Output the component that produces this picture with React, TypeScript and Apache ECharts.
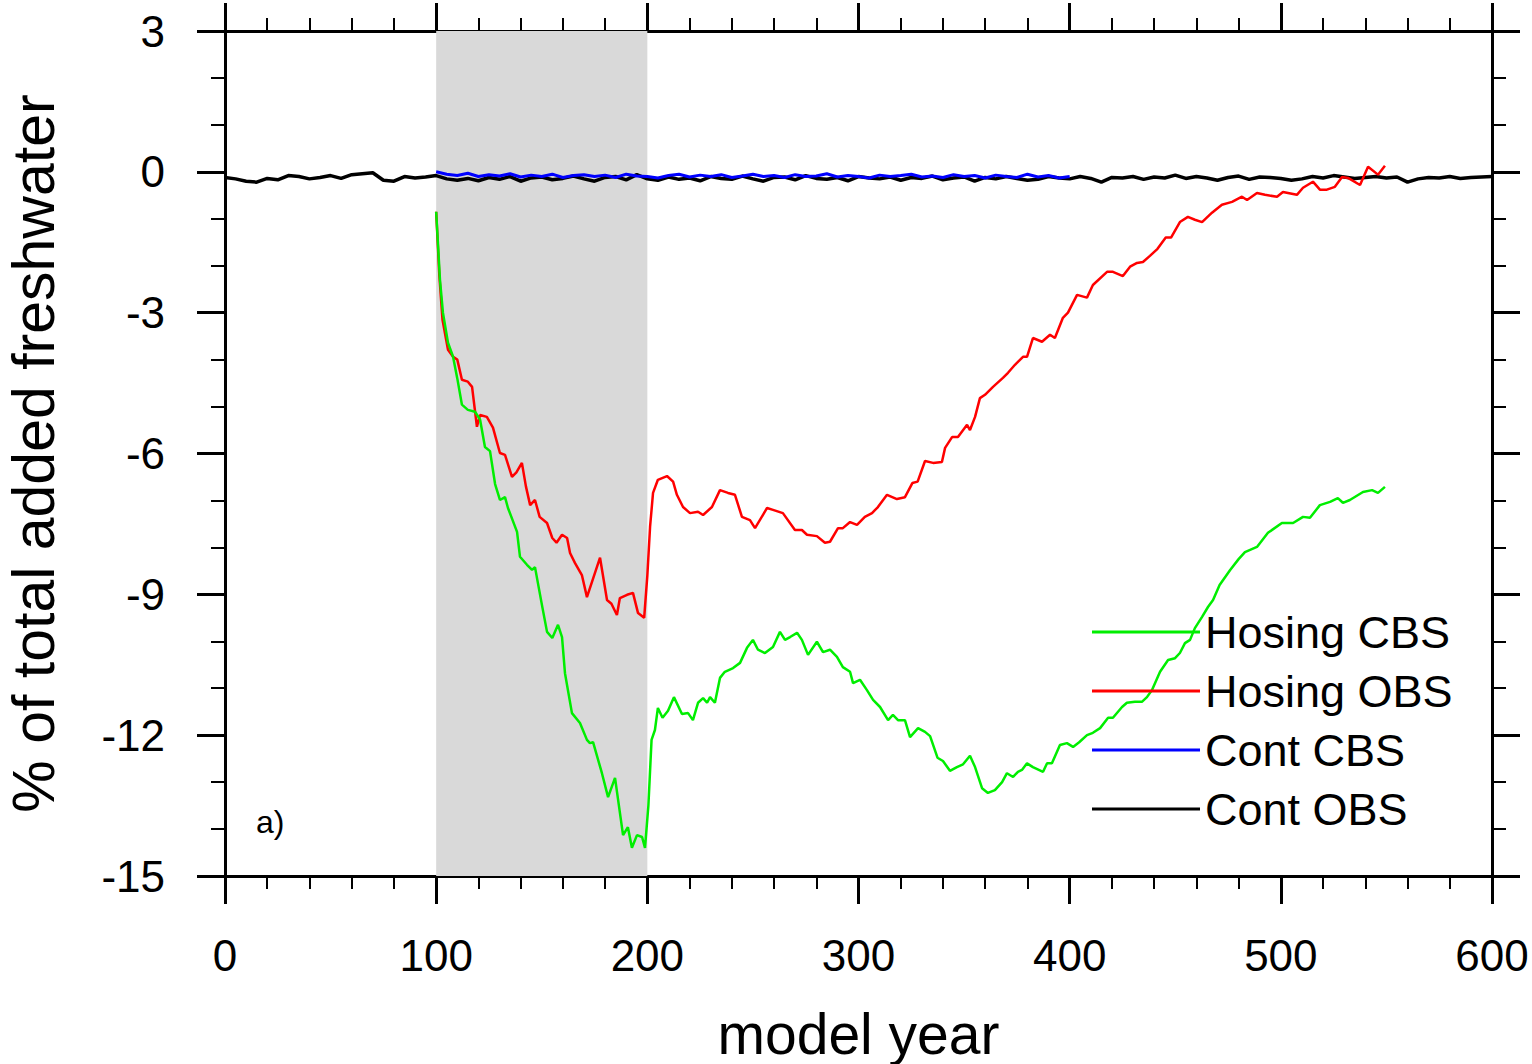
import React, { useEffect, useRef } from "react";
import * as echarts from "echarts";

const FONT = "'Liberation Sans', Arial, Helvetica, sans-serif";

const xTicks = { min: 0, max: 600, interval: 100 };
const yTicks = { min: -15, max: 3, interval: 3 };

const seriesNames = ["Hosing CBS", "Hosing OBS", "Cont CBS", "Cont OBS"];
const seriesColors = ["#00ee00", "#ff0000", "#0000ff", "#000000"];

const hosingPeriod = [100, 200];

// Cont OBS: years 0..600 every 5
const contOBSStart = 0;
const contOBSStep = 5;
const contOBSValues = [
  -0.12, -0.15, -0.2, -0.22, -0.14, -0.17, -0.08, -0.1, -0.15, -0.12,
  -0.08, -0.14, -0.06, -0.04, -0.02, -0.18, -0.2, -0.1, -0.13, -0.11,
  -0.08, -0.15, -0.18, -0.14, -0.19, -0.12, -0.16, -0.1, -0.2, -0.13,
  -0.11, -0.17, -0.14, -0.09, -0.15, -0.2, -0.12, -0.1, -0.17, -0.06,
  -0.15, -0.18, -0.11, -0.16, -0.13, -0.19, -0.1, -0.14, -0.16, -0.09,
  -0.15, -0.2, -0.12, -0.11, -0.17, -0.08, -0.14, -0.16, -0.12, -0.19,
  -0.1, -0.13, -0.15, -0.11, -0.18, -0.12, -0.14, -0.09, -0.17, -0.13,
  -0.11, -0.2, -0.12, -0.15, -0.1, -0.14, -0.18, -0.16, -0.1, -0.13,
  -0.15, -0.1, -0.14, -0.22, -0.12, -0.13, -0.1, -0.16, -0.11, -0.13,
  -0.07, -0.14, -0.1, -0.13, -0.18, -0.12, -0.09, -0.16, -0.11, -0.12,
  -0.14, -0.18, -0.15, -0.1, -0.13, -0.08, -0.11, -0.14, -0.12, -0.1,
  -0.13, -0.11, -0.22, -0.15, -0.12, -0.13, -0.1, -0.14, -0.12, -0.11,
  -0.1,
];

// Cont CBS: years 100..400 every 5
const contCBSStart = 100;
const contCBSStep = 5;
const contCBSValues = [
  0.0, -0.05, -0.08, -0.03, -0.1, -0.06, -0.09, -0.04, -0.11, -0.07,
  -0.1, -0.05, -0.12, -0.08, -0.06, -0.1, -0.07, -0.12, -0.05, -0.09,
  -0.1, -0.13, -0.08, -0.05, -0.11, -0.07, -0.1, -0.06, -0.12, -0.09,
  -0.05, -0.1, -0.08, -0.12, -0.06, -0.1, -0.09, -0.04, -0.11, -0.08,
  -0.1, -0.13, -0.07, -0.1, -0.08, -0.05, -0.11, -0.09, -0.12, -0.06,
  -0.1, -0.08, -0.13, -0.07, -0.1, -0.12, -0.05, -0.11, -0.08, -0.13,
  -0.1,
];

// Hosing OBS: [model year, %]
const hosingOBS: [number, number][] = [
  [100, -0.85], [101.5, -2.2], [103, -3.15], [105.6, -3.79], [108, -3.94], [110, -4.0],
  [112.2, -4.43], [115, -4.47], [117, -4.58], [119.3, -5.43], [120.8, -5.18], [124, -5.22],
  [126.9, -5.45], [130.2, -5.99], [132.6, -6.03], [135.9, -6.5], [138, -6.4], [140.6, -6.2],
  [142.5, -6.7], [144.5, -7.1], [146.8, -6.99], [149, -7.35], [152.5, -7.48], [155, -7.8],
  [157, -7.9], [159.6, -7.73], [162, -7.8], [163.4, -8.12], [165.7, -8.33], [169, -8.59],
  [171.4, -9.06], [177.6, -8.22], [180.9, -9.12], [183, -9.2], [185.6, -9.44], [187, -9.08],
  [190.4, -9.01], [193.2, -8.97], [195.6, -9.4], [198.5, -9.5], [200, -8.6], [201.3, -7.56],
  [202.7, -6.84], [205, -6.56], [209.3, -6.48], [212.2, -6.6], [214, -6.88], [216.9, -7.14],
  [220.2, -7.27], [224, -7.24], [226.4, -7.31], [230.6, -7.14], [234.4, -6.78], [238.2, -6.84],
  [241.5, -6.88], [244.8, -7.35], [248.6, -7.42], [251, -7.59], [256.7, -7.16], [259.5, -7.2],
  [264.2, -7.27], [269.9, -7.63], [273.2, -7.63], [275.6, -7.73], [280.3, -7.76], [284.1, -7.9],
  [286.5, -7.88], [290.3, -7.59], [292.6, -7.59], [296, -7.46], [299.3, -7.52], [303, -7.35],
  [306.4, -7.27], [309.2, -7.14], [313.5, -6.88], [318.2, -6.97], [322, -6.93], [325.5, -6.63],
  [328, -6.6], [331.5, -6.16], [335.3, -6.2], [339.5, -6.18], [341, -5.88], [344.3, -5.65],
  [347.1, -5.65], [351.4, -5.39], [352.8, -5.5], [355.2, -5.22], [357.5, -4.82], [359.9, -4.75],
  [363.7, -4.58], [368.4, -4.39], [370.8, -4.28], [374.1, -4.11], [377.9, -3.94], [379.8, -3.94],
  [382.6, -3.54], [386.9, -3.62], [390.7, -3.47], [393, -3.54], [396.8, -3.11], [399.2, -3.0],
  [403.5, -2.62], [408.2, -2.68], [411, -2.41], [417.7, -2.13], [420.5, -2.13], [425.2, -2.22],
  [428.6, -2.02], [431.9, -1.94], [434.7, -1.92], [438, -1.79], [441.6, -1.64], [445.5, -1.4],
  [448, -1.4], [452.2, -1.07], [456, -0.96], [459.3, -1.02], [462.7, -1.07], [467.4, -0.87],
  [472.1, -0.7], [476.9, -0.64], [481.6, -0.53], [484, -0.6], [488.7, -0.45], [492.5, -0.49],
  [498.2, -0.53], [501, -0.43], [507.6, -0.49], [510.5, -0.34], [515.2, -0.21], [518.5, -0.38],
  [521.8, -0.38], [525.6, -0.32], [529, -0.11], [531.8, -0.13], [537.5, -0.28], [541.3, 0.11],
  [546, -0.06], [549.3, 0.13],
];

// Hosing CBS: [model year, %]
const hosingCBS: [number, number][] = [
  [100, -0.85], [101.8, -2.3], [103.2, -3.0], [105.6, -3.64], [108, -3.94], [110, -4.4],
  [112.2, -4.96], [115, -5.07], [118.4, -5.11], [120.8, -5.28], [123.1, -5.86], [125.5, -5.95],
  [127.9, -6.65], [130.2, -6.99], [132.6, -6.93], [134, -7.16], [138.3, -7.67], [139.7, -8.2],
  [143, -8.37], [145.4, -8.48], [146.8, -8.42], [150.1, -9.23], [152.5, -9.8], [155, -9.93],
  [157.7, -9.65], [159.6, -9.91], [161, -10.68], [164.3, -11.53], [168.1, -11.74], [171.4, -12.1],
  [172.8, -12.17], [174.3, -12.15], [178.5, -12.81], [181.4, -13.32], [184.7, -12.91], [188.5, -14.13],
  [190.8, -13.96], [192.7, -14.4], [195.1, -14.13], [197.5, -14.17], [198.9, -14.4], [200.5, -13.5],
  [202, -12.1], [203.6, -11.89], [205, -11.42], [207.2, -11.63], [209.8, -11.48], [212.6, -11.19],
  [216.4, -11.55], [219.3, -11.53], [221.6, -11.68], [224, -11.31], [226.4, -11.21], [228.3, -11.31],
  [229.7, -11.19], [232, -11.31], [234.4, -10.78], [236.7, -10.65], [240.6, -10.57], [243.9, -10.46],
  [247.2, -10.14], [250, -9.97], [252.4, -10.18], [255.7, -10.25], [259.5, -10.12], [262.8, -9.8],
  [265.2, -9.97], [267.6, -9.91], [270.9, -9.82], [273.2, -9.97], [276.1, -10.29], [280.3, -10.01],
  [283.2, -10.23], [286.5, -10.18], [289.8, -10.33], [292.6, -10.55], [296, -10.65], [297.4, -10.89],
  [300.7, -10.82], [304, -11.04], [306.9, -11.25], [310.2, -11.4], [314, -11.68], [316.3, -11.57],
  [318.7, -11.68], [322, -11.68], [324.4, -12.04], [328.2, -11.85], [331.5, -11.93], [333.9, -12.02],
  [337.4, -12.48], [340, -12.55], [343.3, -12.76], [346.6, -12.68], [349.5, -12.62], [352.8, -12.44],
  [355.2, -12.68], [358.5, -13.13], [361.3, -13.23], [364.6, -13.17], [368, -13.0], [370.3, -12.81],
  [373.2, -12.89], [375.5, -12.78], [377.4, -12.74], [379.8, -12.6], [382.6, -12.68], [387.4, -12.78],
  [389.3, -12.6], [391.6, -12.6], [395.4, -12.21], [398.7, -12.17], [401.6, -12.25], [404.5, -12.15],
  [408.2, -12.0], [411, -11.95], [414.4, -11.85], [418.2, -11.63], [420.5, -11.63], [424.8, -11.4],
  [427.1, -11.31], [430.9, -11.29], [434.2, -11.29], [436.6, -11.19], [439, -11.04], [442.8, -10.65],
  [446.6, -10.4], [449.9, -10.36], [452.2, -10.25], [454.6, -10.04], [457, -9.97], [459.3, -9.72],
  [462.7, -9.48], [465.5, -9.27], [467.9, -9.12], [471, -8.8], [476, -8.48], [480, -8.25],
  [483, -8.1], [488.7, -7.99], [493.9, -7.69], [500.5, -7.48], [505.8, -7.48], [510.5, -7.35],
  [513.8, -7.37], [518.5, -7.1], [523.3, -7.03], [527, -6.95], [529.4, -7.05], [532.7, -6.99],
  [538.9, -6.82], [543.2, -6.78], [546, -6.84], [549.3, -6.71],
];

function toPairs(start: number, step: number, values: number[]): [number, number][] {
  return values.map((v, i) => [start + i * step, v]);
}

export default function App() {
  const ref = useRef<HTMLDivElement>(null);

  useEffect(() => {
    if (!ref.current) return;
    const chart = echarts.init(ref.current, undefined, { renderer: "svg" });

    const axisLine = { show: true, onZero: false, lineStyle: { color: "#000", width: 3 } };
    const axisTick = { show: true, inside: false, length: 28, lineStyle: { color: "#000", width: 3 } };
    const labelStyle = { color: "#000", fontSize: 44, fontFamily: FONT };

    const xBase = {
      type: "value" as const,
      min: xTicks.min,
      max: xTicks.max,
      interval: xTicks.interval,
      axisLine,
      axisTick,
      minorTick: { show: true, splitNumber: 5, length: 13, lineStyle: { color: "#000", width: 2 } },
      splitLine: { show: false },
    };
    const yBase = {
      type: "value" as const,
      min: yTicks.min,
      max: yTicks.max,
      interval: yTicks.interval,
      axisLine,
      axisTick,
      minorTick: { show: true, splitNumber: 3, length: 14, lineStyle: { color: "#000", width: 2 } },
      splitLine: { show: false },
    };

    const lineWidths = [2.5, 2.5, 3, 3.5];

    chart.setOption({
      animation: false,
      backgroundColor: "#ffffff",
      grid: { left: 225, right: 40, top: 31, bottom: 188, containLabel: false, outerBoundsMode: "none" },
      xAxis: [
        {
          ...xBase,
          position: "bottom",
          axisLabel: { ...labelStyle, margin: 57 },
          name: "model year",
          nameLocation: "middle",
          nameGap: 129,
          nameTextStyle: { color: "#000", fontSize: 57, fontFamily: FONT },
        },
        { ...xBase, position: "top", axisLabel: { show: false } },
      ],
      yAxis: [
        {
          ...yBase,
          position: "left",
          axisLabel: { ...labelStyle, margin: 60 },
          name: "% of total added freshwater",
          nameLocation: "middle",
          nameGap: 162,
          nameTextStyle: { color: "#000", fontSize: 59, fontFamily: FONT },
        },
        { ...yBase, position: "right", axisLabel: { show: false } },
      ],
      legend: {
        data: seriesNames,
        orient: "vertical",
        left: 1092,
        top: 607,
        padding: 0,
        icon: "rect",
        itemWidth: 108,
        itemHeight: 3,
        itemGap: 9,
        selectedMode: false,
        textStyle: { color: "#000", fontSize: 45, fontFamily: FONT, lineHeight: 50 },
      },
      graphic: [
        {
          type: "text",
          left: 256,
          top: 806,
          style: { text: "a)", fontSize: 32, fontFamily: FONT, fill: "#000" },
        },
      ],
      series: [
        {
          name: "shade",
          type: "line",
          z: 1,
          data: [],
          silent: true,
          markArea: {
            silent: true,
            itemStyle: { color: "#d9d9d9", opacity: 1 },
            data: [[{ xAxis: hosingPeriod[0] }, { xAxis: hosingPeriod[1] }]],
          },
        },
        {
          name: seriesNames[3],
          type: "line",
          data: toPairs(contOBSStart, contOBSStep, contOBSValues),
          showSymbol: false,
          symbol: "none",
          lineStyle: { color: seriesColors[3], width: lineWidths[3] },
          itemStyle: { color: seriesColors[3] },
        },
        {
          name: seriesNames[2],
          type: "line",
          data: toPairs(contCBSStart, contCBSStep, contCBSValues),
          showSymbol: false,
          symbol: "none",
          lineStyle: { color: seriesColors[2], width: lineWidths[2] },
          itemStyle: { color: seriesColors[2] },
        },
        {
          name: seriesNames[1],
          type: "line",
          data: hosingOBS,
          showSymbol: false,
          symbol: "none",
          lineStyle: { color: seriesColors[1], width: lineWidths[1] },
          itemStyle: { color: seriesColors[1] },
        },
        {
          name: seriesNames[0],
          type: "line",
          data: hosingCBS,
          showSymbol: false,
          symbol: "none",
          lineStyle: { color: seriesColors[0], width: lineWidths[0] },
          itemStyle: { color: seriesColors[0] },
        },
      ],
    });

    return () => chart.dispose();
  }, []);

  return <div ref={ref} style={{ width: 1532, height: 1064, position: "absolute", left: 0, top: 0 }} />;
}
